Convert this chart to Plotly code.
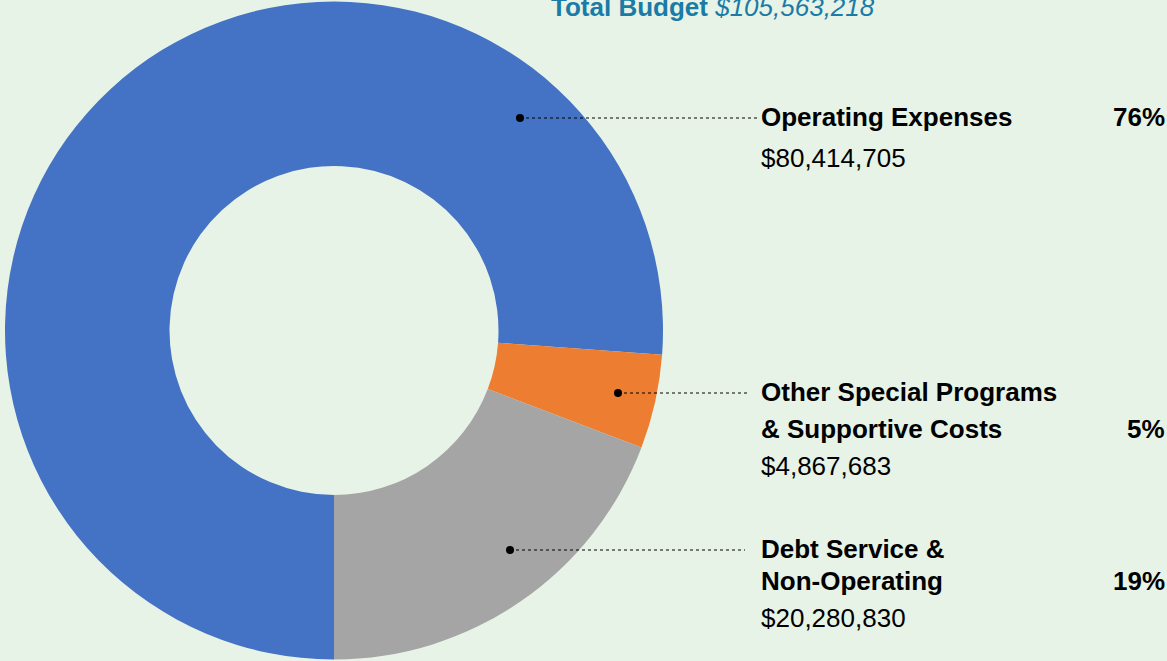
import plotly.graph_objects as go

W, H = 1167, 661

# Budget categories (drawn clockwise from 6 o'clock)
categories = ["Operating Expenses",
              "Other Special Programs & Supportive Costs",
              "Debt Service & Non-Operating"]
amounts = [80414705, 4867683, 20280830]
colors = ["#4472C4", "#ED7D31", "#A5A5A5"]

label_lines = [["Operating Expenses"],
               ["Other Special Programs", "& Supportive Costs"],
               ["Debt Service &", "Non-Operating"]]
total = sum(amounts)

BG = "#E7F3E7"
FONT = "Liberation Sans, Arial, sans-serif"


def px(x):
    return x / W


def py(y):
    return 1 - y / H


fig = go.Figure(go.Pie(
    labels=categories,
    values=amounts,
    hole=0.5,
    sort=False,
    direction="clockwise",
    rotation=180,
    marker=dict(colors=colors, line=dict(width=0)),
    textinfo="none",
    hoverinfo="label+value+percent",
    domain=dict(x=[px(5), px(663)], y=[0, 1]),
    showlegend=False,
))

annotations = []
shapes = []

# Title
annotations.append(dict(
    x=px(713), y=py(7), xref="paper", yref="paper",
    text=f"<b>Total Budget</b> <i>${total:,}</i>",
    showarrow=False, xanchor="center", yanchor="middle",
    font=dict(family=FONT, size=26, color="#1A7BA6"),
))

# Callout layout per category: dot position, line end, text rows
callouts = [
    dict(dot=(520, 118), end=(757, 118), rows=[117, 158]),
    dict(dot=(618, 393), end=(750, 393), rows=[392, 429, 466]),
    dict(dot=(510, 550), end=(745, 550), rows=[549, 581, 618]),
]

for lines, amt, c in zip(label_lines, amounts, callouts):
    (dx, dy), (ex, ey) = c["dot"], c["end"]
    shapes.append(dict(type="line", xref="paper", yref="paper",
                       x0=px(dx), y0=py(dy), x1=px(ex), y1=py(ey),
                       line=dict(color="black", width=1, dash="dot")))
    r = 4
    shapes.append(dict(type="circle", xref="paper", yref="paper",
                       x0=px(dx - r), y0=py(dy - r), x1=px(dx + r), y1=py(dy + r),
                       fillcolor="black", line=dict(width=0)))
    rows = c["rows"]
    for i, t in enumerate(lines):
        annotations.append(dict(
            x=px(759), y=py(rows[i]), xref="paper", yref="paper",
            text=f"<b>{t}</b>", showarrow=False,
            xanchor="left", yanchor="middle",
            font=dict(family=FONT, size=26, color="black"),
        ))
    annotations.append(dict(
        x=px(759), y=py(rows[len(lines)]), xref="paper", yref="paper",
        text=f"${amt:,}", showarrow=False,
        xanchor="left", yanchor="middle",
        font=dict(family=FONT, size=26, color="black"),
    ))
    pct = round(amt / total * 100)
    annotations.append(dict(
        x=px(1167), y=py(rows[len(lines) - 1]), xref="paper", yref="paper",
        text=f"<b>{pct}%</b>", showarrow=False,
        xanchor="right", yanchor="middle",
        font=dict(family=FONT, size=26, color="black"),
    ))

fig.update_layout(
    width=W, height=H,
    margin=dict(l=0, r=0, t=0, b=0),
    paper_bgcolor=BG, plot_bgcolor=BG,
    annotations=annotations, shapes=shapes,
)

fig.write_html("out.html")
